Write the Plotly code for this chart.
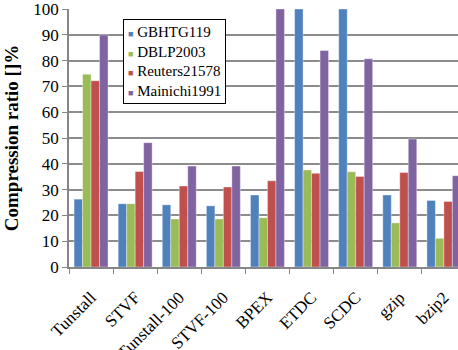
import plotly.graph_objects as go

categories = ["Tunstall", "STVF", "Tunstall-100", "STVF-100", "BPEX", "ETDC", "SCDC", "gzip", "bzip2"]
gbhtg119 = [26.3, 24.5, 24.1, 23.7, 27.9, 100, 100, 27.9, 25.8]
dblp2003 = [74.7, 24.5, 18.6, 18.6, 19.1, 37.6, 36.9, 17.1, 11.1]
reuters21578 = [72.2, 37.0, 31.4, 31.0, 33.4, 36.3, 35.1, 36.6, 25.4]
mainichi1991 = [90.0, 48.2, 39.1, 39.1, 100, 83.9, 80.7, 49.6, 35.4]

series = [
    ("GBHTG119", gbhtg119, "#4F81BD"),
    ("DBLP2003", dblp2003, "#9BBB59"),
    ("Reuters21578", reuters21578, "#C0504D"),
    ("Mainichi1991", mainichi1991, "#8064A2"),
]

font = "Liberation Serif, Times New Roman, serif"

fig = go.Figure()
for name, vals, color in series:
    fig.add_trace(go.Bar(
        x=categories, y=vals, name=name,
        marker=dict(color=color, line=dict(color="rgba(255,255,255,0.6)", width=0.6)),
    ))

# custom legend as real text
legend_lines = [
    f'<span style="color:{c};font-size:9px">\u25A0</span> {n}' for n, _, c in series
]
fig.add_annotation(
    xref="paper", yref="paper", x=0.139, y=0.962, xanchor="left", yanchor="top",
    text="<br>".join(legend_lines), align="left", showarrow=False,
    font=dict(family=font, size=15, color="black"),
    bgcolor="white", bordercolor="black", borderwidth=1, borderpad=4,
)

fig.update_layout(
    width=458, height=350,
    margin=dict(l=69, r=0, t=9, b=83),
    barmode="group", bargap=0.23, bargroupgap=0,
    plot_bgcolor="white", paper_bgcolor="white",
    font=dict(family=font, size=14, color="black"),
    showlegend=False,
    xaxis=dict(
        range=[-0.5, 8.32], automargin=False,
        tickangle=-45,
        ticks="outside", tickson="boundaries", ticklen=5, tickcolor="#868686",
        showline=True, linecolor="#868686", linewidth=1.5,
        showgrid=False, ticklabelstandoff=12, ticklabeloverflow="allow",
        tickfont=dict(family=font, size=17, color="black"),
    ),
    yaxis=dict(
        range=[0, 100], dtick=10, automargin=False,
        ticks="outside", ticklen=5, tickcolor="#868686",
        showline=True, linecolor="#868686", linewidth=1.5,
        showgrid=True, gridcolor="#8c8c8c", gridwidth=1.5,
        ticklabeloverflow="allow",
        tickfont=dict(family=font, size=17, color="black"),
        title=dict(text="<b>Compression ratio []%</b>", font=dict(family=font, size=19, color="black"), standoff=10),
    ),
)

fig.write_html(
    "out.html",
    config={"displayModeBar": False},
    post_script="document.body.style.margin='0';document.body.style.overflow='hidden';",
)
